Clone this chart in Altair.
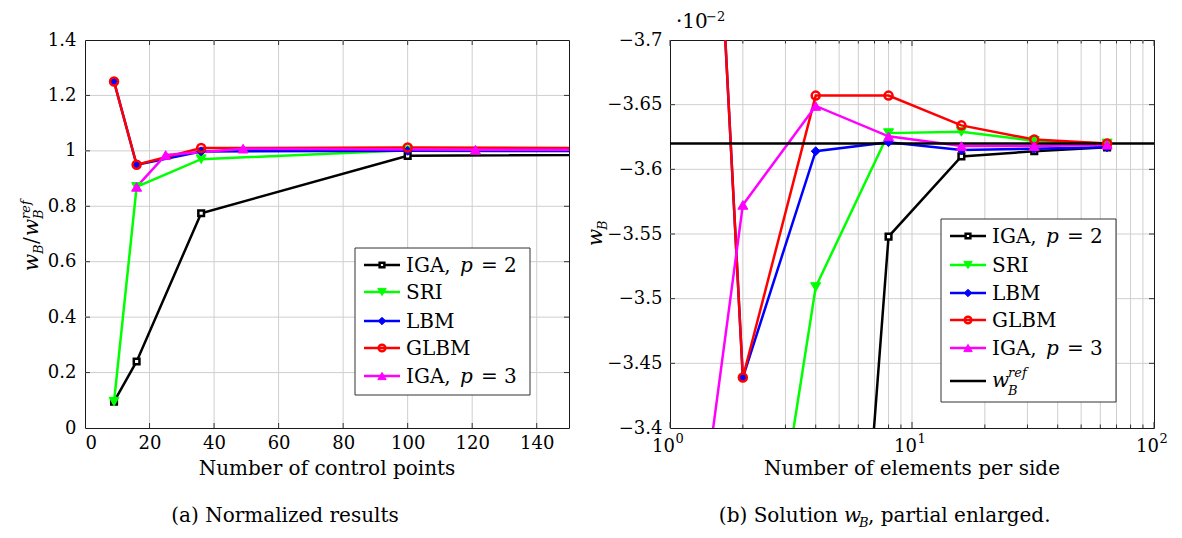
import altair as alt
import pandas as pd

# ---------------- data ----------------
series = ["IGA2", "SRI", "LBM", "GLBM", "IGA3"]

# (a) normalized results vs. number of control points
ctrl_p2 = [9, 16, 36, 100, 324]
ctrl_p3 = [16, 25, 49, 121, 361]
norm_iga2 = [0.095, 0.24, 0.775, 0.982, 0.997]
norm_sri = [0.095, 0.87, 0.97, 1.002, 1.002]
norm_lbm = [1.25, 0.95, 0.998, 1.0, 0.999]
norm_glbm = [1.25, 0.95, 1.01, 1.012, 1.004]
norm_iga3 = [0.87, 0.985, 1.008, 1.004, 1.001]

# (b) w_B (x 10^-2) vs. number of elements per side
elems = [1, 2, 4, 8, 16, 32, 64]
wb_iga2 = [-0.344, -0.869, -2.806, -3.548, -3.610, -3.614, -3.617]
wb_sri = [-0.344, -3.149, -3.509, -3.628, -3.629, -3.622, -3.620]
wb_lbm = [-4.525, -3.439, -3.614, -3.621, -3.615, -3.616, -3.617]
wb_glbm = [-4.525, -3.439, -3.657, -3.657, -3.634, -3.623, -3.620]
wb_iga3 = [-3.149, -3.5725, -3.649, -3.6255, -3.618, -3.618, -3.619]
w_ref = [-3.62]

# ticks
x_ticks_a = [0, 20, 40, 60, 80, 100, 120, 140]
y_ticks_a = [0, 0.2, 0.4, 0.6, 0.8, 1.0, 1.2, 1.4]
y_ticks_b = [-3.7, -3.65, -3.6, -3.55, -3.5, -3.45, -3.4]
dec_b = [1, 10, 100]
dec_exp = ["0", "1", "2"]
minor_b = [2, 3, 4, 5, 6, 7, 8, 9, 20, 30, 40, 50, 60, 70, 80, 90]

# ---------------- style ----------------
FONT = "DejaVu Serif"
FS = 20
FS_TICK = 18
FS_SUB = 13
W, H = 484, 388
GRID = "#cfcfcf"
TICK = "#333333"
LW = 2.5

style = {
    "IGA2": dict(color="#000000", shape="square", size=32, fill="white"),
    "SRI": dict(color="#00ff00", shape="triangle-down", size=100, fill="#00ff00"),
    "LBM": dict(color="#0000ff", shape="diamond", size=80, fill="#0000ff"),
    "GLBM": dict(color="#ff0000", shape="circle", size=64, fill=None),
    "IGA3": dict(color="#ff00ff", shape="triangle-up", size=100, fill="#ff00ff"),
}

one = pd.DataFrame({"d": [0]})


def txt(s, x, y, size=FS, italic=False, align="left", baseline="alphabetic", angle=0):
    kw = dict(font=FONT, fontSize=size, align=align, baseline=baseline, color="black", text=s)
    if italic:
        kw["fontStyle"] = "italic"
    if angle:
        kw["angle"] = angle
    return alt.Chart(one).mark_text(**kw).encode(x=alt.value(x), y=alt.value(y))


def point_mark(name, size=None, clip=True):
    st = style[name]
    kw = dict(shape=st["shape"], size=size or st["size"], opacity=1, stroke=st["color"],
              strokeWidth=2.5 if st["fill"] != st["color"] else 1)
    if st["fill"] is None:
        kw["filled"] = False
    else:
        kw["filled"] = True
        kw["fill"] = st["fill"]
    if clip:
        kw["clip"] = True
    return kw


def legend_layers(box, rows, labels):
    x0, x1, y0, y1 = box
    layers = [alt.Chart(one).mark_rect(fill="white", stroke="#333333", strokeWidth=1).encode(
        x=alt.value(x0), x2=alt.value(x1), y=alt.value(y0), y2=alt.value(y1))]
    lx0, lx1 = x0 + 9, x0 + 45
    mx = (lx0 + lx1) / 2
    tx = x0 + 51
    for name, ry in zip(series, rows):
        st = style[name]
        layers.append(alt.Chart(one).mark_rule(color=st["color"], strokeWidth=LW).encode(
            x=alt.value(lx0), x2=alt.value(lx1), y=alt.value(ry)))
        layers.append(alt.Chart(one).mark_point(**point_mark(name, size=st["size"] * 0.7, clip=False)).encode(
            x=alt.value(mx), y=alt.value(ry)))
        lab = labels[name]
        if isinstance(lab, tuple):
            layers.append(txt(lab[0], tx, ry + 7))
            layers.append(txt(lab[1], tx + 54, ry + 7, italic=True))
            layers.append(txt(lab[2], tx + 75, ry + 7))
        else:
            layers.append(txt(lab, tx, ry + 7))
    return layers


labels = {"IGA2": ("IGA,", "p", "= 2"), "SRI": "SRI", "LBM": "LBM", "GLBM": "GLBM",
          "IGA3": ("IGA,", "p", "= 3")}

# ---------------- panel (a) ----------------
xs_a = alt.Scale(domain=[0, 150], nice=False, zero=False)
ys_a = alt.Scale(domain=[0, 1.4], nice=False, zero=False)
ax_xa = alt.Axis(values=x_ticks_a, title=None, ticks=False, domain=False, grid=False,
                 labelFont=FONT, labelFontSize=FS_TICK, labelColor="black", labelPadding=6, format="d")
ax_ya = alt.Axis(values=y_ticks_a, title=None, ticks=False, domain=False, grid=False,
                 labelFont=FONT, labelFontSize=FS_TICK, labelColor="black", labelPadding=9, format="~g")


def XA(f):
    return alt.X(f, type="quantitative", scale=xs_a, axis=ax_xa)


def YA(f):
    return alt.Y(f, type="quantitative", scale=ys_a, axis=ax_ya)


la = []
la.append(alt.Chart(pd.DataFrame({"v": x_ticks_a[1:]})).mark_rule(color=GRID, strokeWidth=1).encode(x=XA("v")))
la.append(alt.Chart(pd.DataFrame({"v": y_ticks_a[1:-1]})).mark_rule(color=GRID, strokeWidth=1).encode(y=YA("v")))
dfx = pd.DataFrame({"v": x_ticks_a[1:]})
dfy = pd.DataFrame({"v": y_ticks_a[1:-1]})
la.append(alt.Chart(dfx).mark_rule(color=TICK, strokeWidth=1).encode(x=XA("v"), y=alt.value(H), y2=alt.value(H - 5)))
la.append(alt.Chart(dfx).mark_rule(color=TICK, strokeWidth=1).encode(x=XA("v"), y=alt.value(0), y2=alt.value(5)))
la.append(alt.Chart(dfy).mark_rule(color=TICK, strokeWidth=1).encode(y=YA("v"), x=alt.value(0), x2=alt.value(5)))
la.append(alt.Chart(dfy).mark_rule(color=TICK, strokeWidth=1).encode(y=YA("v"), x=alt.value(W), x2=alt.value(W - 5)))

data_a = {
    "IGA2": (ctrl_p2, norm_iga2), "SRI": (ctrl_p2, norm_sri), "LBM": (ctrl_p2, norm_lbm),
    "GLBM": (ctrl_p2, norm_glbm), "IGA3": (ctrl_p3, norm_iga3),
}
for name in series:
    xv, yv = data_a[name]
    df = pd.DataFrame({"x": xv, "y": yv})
    la.append(alt.Chart(df).mark_line(color=style[name]["color"], strokeWidth=LW, clip=True).encode(x=XA("x"), y=YA("y")))
for name in series:
    xv, yv = data_a[name]
    df = pd.DataFrame({"x": xv, "y": yv})
    la.append(alt.Chart(df).mark_point(**point_mark(name)).encode(x=XA("x"), y=YA("y")))

la += legend_layers((270, 445, 208, 355), [225, 252, 281, 308, 336], labels)

# axis titles & caption
la.append(txt("Number of control points", W / 2, H + 47, align="center"))
# y title: w_B / w_B^ref (rotated)
la.append(txt("w", -47, 231, italic=True, angle=270))
la.append(txt("B", -42, 214, size=FS_SUB, italic=True, angle=270))
la.append(txt("/", -47, 204, angle=270))
la.append(txt("w", -47, 196, italic=True, angle=270))
la.append(txt("B", -42, 179, size=FS_SUB, italic=True, angle=270))
la.append(txt("ref", -55, 179, size=FS_SUB, italic=True, angle=270))
la.append(txt("(a) Normalized results", 200, 482, align="center"))
# layout bounds
la.append(alt.Chart(one).mark_rule(opacity=0).encode(
    x=alt.value(-76), x2=alt.value(W + 10), y=alt.value(-31), y2=alt.value(495)))

left = alt.layer(*la).properties(width=W, height=H)

# ---------------- panel (b) ----------------
xs_b = alt.Scale(type="log", domain=[1, 100], nice=False)
ys_b = alt.Scale(domain=[-3.7, -3.4], nice=False, zero=False, reverse=True)
ax_yb = alt.Axis(values=y_ticks_b, title=None, ticks=False, domain=False, grid=False,
                 labelFont=FONT, labelFontSize=FS_TICK, labelColor="black", labelPadding=8,
                 labelExpr="replace(format(datum.value, '.3~g'), '-', '\u2212')")


def XB(f):
    return alt.X(f, type="quantitative", scale=xs_b, axis=None)


def YB(f):
    return alt.Y(f, type="quantitative", scale=ys_b, axis=ax_yb)


lb = []
dfm = pd.DataFrame({"v": minor_b})
dfd = pd.DataFrame({"v": dec_b, "e": dec_exp})
dfyb = pd.DataFrame({"v": y_ticks_b[1:-1]})
lb.append(alt.Chart(pd.DataFrame({"v": minor_b + [10]})).mark_rule(color=GRID, strokeWidth=1).encode(x=XB("v")))
lb.append(alt.Chart(dfyb).mark_rule(color=GRID, strokeWidth=1).encode(y=YB("v")))
lb.append(alt.Chart(dfm).mark_rule(color=TICK, strokeWidth=1).encode(x=XB("v"), y=alt.value(H), y2=alt.value(H - 3.5)))
lb.append(alt.Chart(dfm).mark_rule(color=TICK, strokeWidth=1).encode(x=XB("v"), y=alt.value(0), y2=alt.value(3.5)))
lb.append(alt.Chart(dfd).mark_rule(color=TICK, strokeWidth=1).encode(x=XB("v"), y=alt.value(H), y2=alt.value(H - 6)))
lb.append(alt.Chart(dfd).mark_rule(color=TICK, strokeWidth=1).encode(x=XB("v"), y=alt.value(0), y2=alt.value(6)))
lb.append(alt.Chart(dfyb).mark_rule(color=TICK, strokeWidth=1).encode(y=YB("v"), x=alt.value(0), x2=alt.value(5)))
lb.append(alt.Chart(dfyb).mark_rule(color=TICK, strokeWidth=1).encode(y=YB("v"), x=alt.value(W), x2=alt.value(W - 5)))

data_b = {"IGA2": wb_iga2, "SRI": wb_sri, "LBM": wb_lbm, "GLBM": wb_glbm, "IGA3": wb_iga3}
for name in series:
    df = pd.DataFrame({"x": elems, "y": data_b[name]})
    lb.append(alt.Chart(df).mark_line(color=style[name]["color"], strokeWidth=LW, clip=True).encode(x=XB("x"), y=YB("y")))
lb.append(alt.Chart(pd.DataFrame({"y": w_ref})).mark_rule(color="black", strokeWidth=LW).encode(y=YB("y")))
for name in series:
    df = pd.DataFrame({"x": elems, "y": data_b[name]})
    lb.append(alt.Chart(df).mark_point(**point_mark(name)).encode(x=XB("x"), y=YB("y")))

# decade labels 10^k
lb.append(alt.Chart(dfd).mark_text(font=FONT, fontSize=FS_TICK, align="right", baseline="alphabetic", dx=5, text="10", color="black").encode(
    x=XB("v"), y=alt.value(H + 24)))
lb.append(alt.Chart(dfd).mark_text(font=FONT, fontSize=FS_SUB, align="left", baseline="alphabetic", dx=5.5, color="black").encode(
    x=XB("v"), y=alt.value(H + 15), text="e:N"))

lb += legend_layers((271, 446, 179, 362), [196, 225, 253, 280, 308], labels)
# w_ref entry
lb.append(alt.Chart(one).mark_rule(color="black", strokeWidth=LW).encode(
    x=alt.value(280), x2=alt.value(316), y=alt.value(341)))
lb.append(txt("w", 322, 347, italic=True))
lb.append(txt("B", 338, 355, size=FS_SUB, italic=True))
lb.append(txt("ref", 338, 337, size=FS_SUB, italic=True))

# scale label ·10^-2
lb.append(txt("\u00b710", 6, -12))
lb.append(txt("\u22122", 36, -19, size=FS_SUB))

lb.append(txt("Number of elements per side", W / 2, H + 47, align="center"))
# y title w_B
lb.append(txt("w", -68, 206, italic=True, angle=270))
lb.append(txt("B", -63, 190, size=FS_SUB, italic=True, angle=270))
# caption
lb.append(txt("(b) Solution", 168, 482, align="right"))
lb.append(txt("w", 174, 482, italic=True))
lb.append(txt("B", 189, 487, size=FS_SUB, italic=True))
lb.append(txt(", partial enlarged.", 198, 482))
lb.append(alt.Chart(one).mark_rule(opacity=0).encode(
    x=alt.value(-89), x2=alt.value(W + 14), y=alt.value(-31), y2=alt.value(495)))

right = alt.layer(*lb).properties(width=W, height=H)

chart = alt.hconcat(left, right, spacing=0).properties(padding=0, background="white").configure_view(
    stroke="#1a1a1a", strokeWidth=1)

chart.save("out.html", embed_options={"renderer": "svg", "actions": False})
